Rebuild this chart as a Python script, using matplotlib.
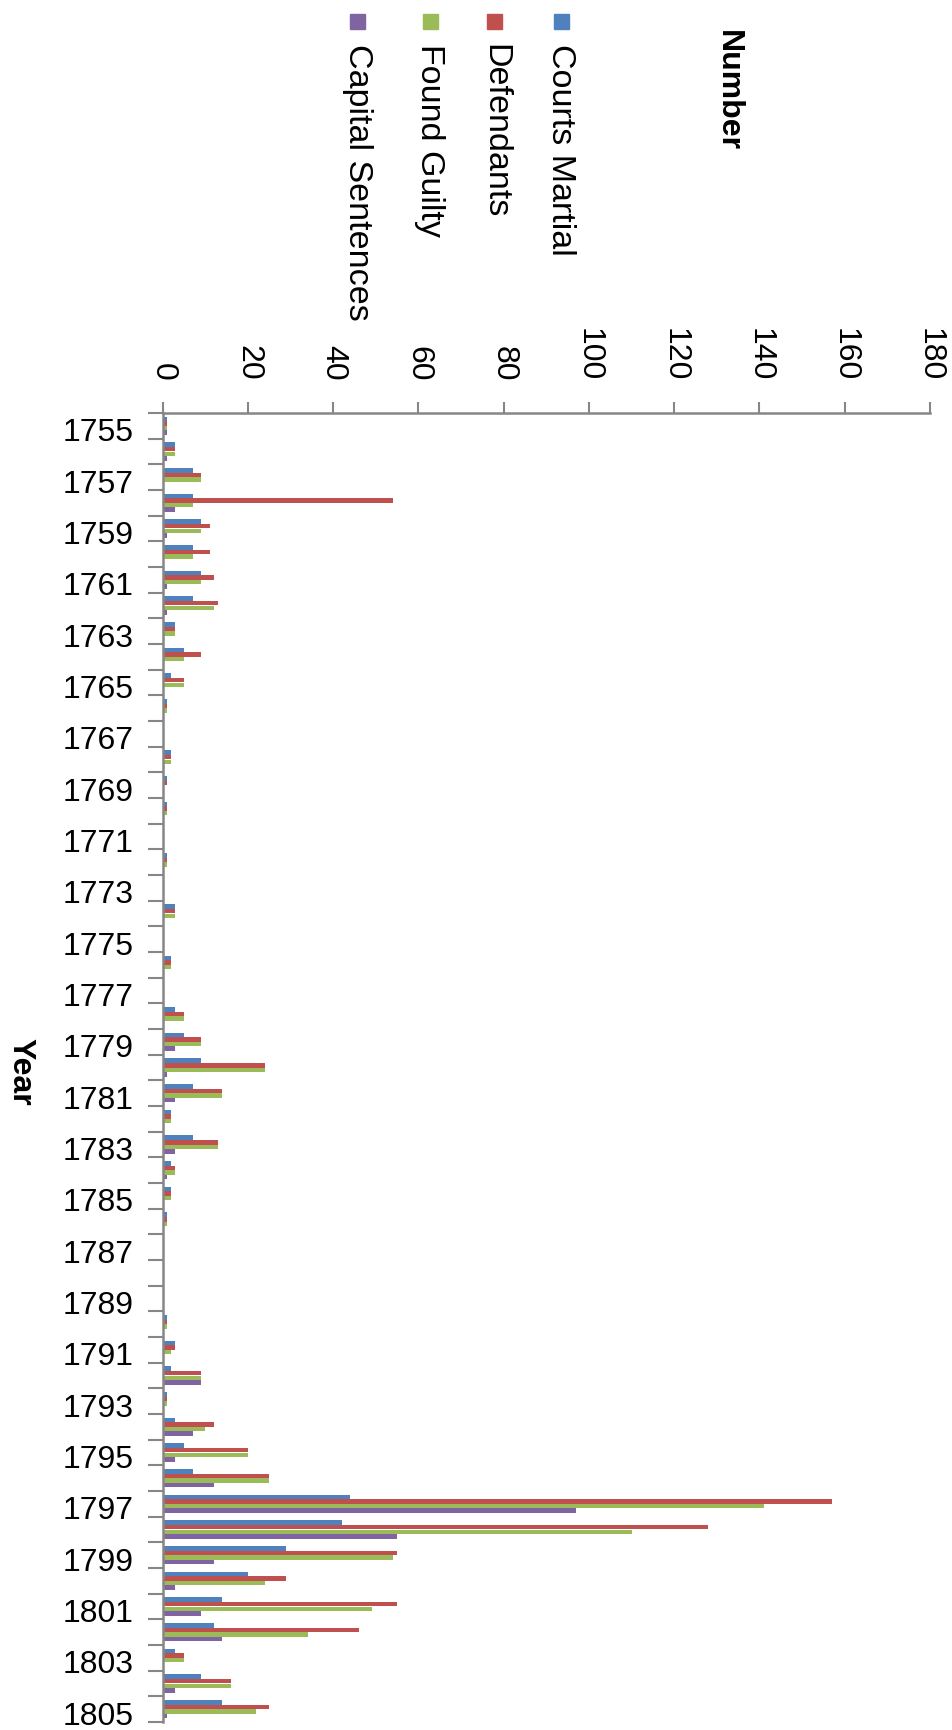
import numpy as np
import matplotlib
matplotlib.use("Agg")
import matplotlib.pyplot as plt
from matplotlib.patches import Rectangle
from matplotlib.transforms import ScaledTranslation

plt.rcParams['font.family'] = ['Liberation Sans', 'DejaVu Sans']

# Naval courts martial by year
years = list(range(1755, 1806))
courts_martial = [1, 3, 7, 7, 9, 7, 9, 7, 3, 5, 2, 1, 0, 2, 1, 1, 0, 1, 0, 3, 0, 2, 0,
                  3, 5, 9, 7, 2, 7, 2, 2, 1, 0, 0, 0, 1, 3, 2, 1, 3, 5, 7, 44, 42,
                  29, 20, 14, 12, 3, 9, 14]
defendants = [1, 3, 9, 54, 11, 11, 12, 13, 3, 9, 5, 1, 0, 2, 1, 1, 0, 1, 0, 3, 0, 2, 0,
              5, 9, 24, 14, 2, 13, 3, 2, 1, 0, 0, 0, 1, 3, 9, 1, 12, 20, 25, 157, 128,
              55, 29, 55, 46, 5, 16, 25]
found_guilty = [1, 3, 9, 7, 9, 7, 9, 12, 3, 5, 5, 1, 0, 2, 0, 1, 0, 1, 0, 3, 0, 2, 0,
                5, 9, 24, 14, 2, 13, 3, 2, 1, 0, 0, 0, 1, 2, 9, 1, 10, 20, 25, 141, 110,
                54, 24, 49, 34, 5, 16, 22]
capital_sentences = [1, 1, 0, 3, 1, 0, 1, 1, 0, 0, 0, 0, 0, 0, 0, 0, 0, 0, 0, 0, 0, 0, 0,
                     0, 3, 1, 3, 0, 3, 1, 0, 0, 0, 0, 0, 0, 0, 9, 0, 7, 3, 12, 97, 55,
                     12, 3, 9, 14, 0, 3, 1]

series_names = ["Courts Martial", "Defendants", "Found Guilty", "Capital Sentences"]
series_colors = ["#4F81BD", "#C0504D", "#9BBB59", "#8064A2"]
value_ticks = list(range(0, 181, 20))

W, H = 952, 1730
fig = plt.figure(figsize=(W / 100, H / 100), dpi=100)
fig.patch.set_facecolor("white")

x0, x1 = 162.7, 930.0
y_top, y_bot = 413.0, 1722.0
ax = fig.add_axes([x0 / W, 1 - y_bot / H, (x1 - x0) / W, (y_bot - y_top) / H])

series = [courts_martial, defendants, found_guilty, capital_sentences]
pos = np.arange(len(years))
bh = 0.18
for i, (vals, col) in enumerate(zip(series, series_colors)):
    ax.barh(pos + (i - 1.5) * bh, vals, height=bh, color=col, linewidth=0)

ax.set_xlim(0, 180)
ax.set_ylim(len(years) - 0.5, -0.5)

axis_gray = "#868686"
for side in ("right", "bottom"):
    ax.spines[side].set_visible(False)
for side in ("top", "left"):
    ax.spines[side].set_color(axis_gray)
    ax.spines[side].set_linewidth(1.8)

# value axis along the top
ax.xaxis.tick_top()
ax.set_xticks(value_ticks)
ax.set_xticklabels([str(v) for v in value_ticks])
ax.tick_params(axis="x", which="major", direction="out", length=8, width=1.5,
               color=axis_gray, labelsize=23, labelrotation=-90, pad=15)

# category axis: ticks between years, labels on every other year
ax.set_yticks(np.arange(-0.5, len(years), 1.0))
ax.set_yticklabels([])
ax.tick_params(axis="y", which="major", direction="out", length=11, width=1.5,
               color=axis_gray)
ax.set_yticks(pos[::2], minor=True)
ax.set_yticklabels([str(y) for y in years[::2]], minor=True)
ax.tick_params(axis="y", which="minor", length=0, labelsize=23, pad=21)
shift = ScaledTranslation(0, -4 / 100, fig.dpi_scale_trans)
for lab in ax.get_yticklabels(minor=True):
    lab.set_transform(lab.get_transform() + shift)

# axis titles
fig.text(728 / W, 1 - 91 / H, "Number", rotation=-90, fontsize=23,
         fontweight="bold", ha="center", va="center")
fig.text(20 / W, 1 - 1072 / H, "Year", rotation=-90, fontsize=23,
         fontweight="bold", ha="center", va="center")

# legend: colour key above rotated labels
legend_x = [561, 495, 430, 357]
for name, col, xc in zip(series_names, series_colors, legend_x):
    fig.patches.append(Rectangle(((xc - 7.5) / W, 1 - 29 / H), 15 / W, 15 / H,
                                 transform=fig.transFigure, color=col))
    fig.text(xc / W, 1 - 44 / H, name, rotation=-90, fontsize=24.5,
             ha="center", va="top")

fig.savefig("out.png", dpi=100, facecolor="white")
